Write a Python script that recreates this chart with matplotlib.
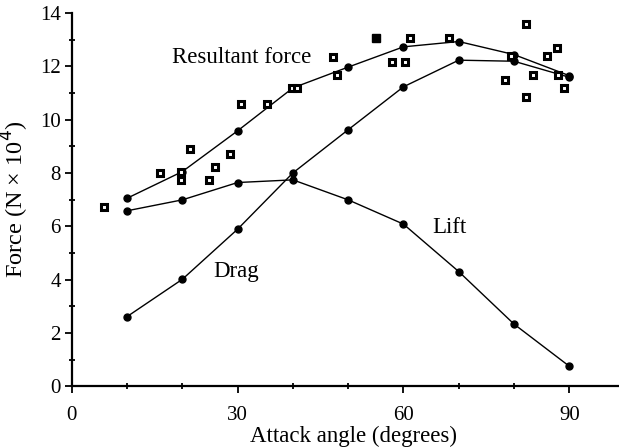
import matplotlib
matplotlib.use('Agg')
import matplotlib.pyplot as plt
from matplotlib.ticker import MultipleLocator

plt.rcParams['font.family'] = ['Liberation Serif', 'DejaVu Serif']

angles = [10, 20, 30, 40, 50, 60, 70, 80, 90]
resultant = [7.05, 8.05, 9.58, 11.19, 11.97, 12.73, 12.93, 12.44, 11.65]
lift = [6.58, 6.99, 7.64, 7.74, 6.99, 6.08, 4.30, 2.33, 0.75]
drag = [2.61, 4.01, 5.89, 8.0, 9.62, 11.23, 12.23, 12.19, 11.59]

meas_x = [5.9, 15.9, 19.8, 19.8, 21.3, 24.9, 25.9, 28.7, 30.7, 35.3, 39.8, 40.7,
          47.3, 48.0, 58.0, 60.2, 61.2, 68.2, 78.3, 79.5, 82.2, 82.2, 83.5, 85.9,
          87.8, 88.0, 89.0]
meas_y = [6.74, 8.0, 8.02, 7.73, 8.91, 7.74, 8.22, 8.7, 10.6, 10.6, 11.19, 11.19,
          12.36, 11.67, 12.17, 12.17, 13.07, 13.07, 11.48, 12.4, 13.57, 10.84, 11.68,
          12.38, 12.67, 11.68, 11.19]
filled_x = [55.0]
filled_y = [13.07]

fig = plt.figure(figsize=(6.19, 4.48), dpi=100)
ax = fig.add_axes([0.116, 0.138, 0.884, 0.833])

for ys in (resultant, lift, drag):
    ax.plot(angles, ys, color='black', lw=1.0, marker='o', ms=5, mfc='black', mec='black')

ax.plot(meas_x, meas_y, ls='none', marker='s', ms=4.2, mfc='white', mec='black', mew=2.2)
ax.plot(filled_x, filled_y, ls='none', marker='s', ms=5.5, mfc='black', mec='black')

ax.text(30.7, 12.33, 'Resultant force', fontsize=16.5, ha='center', va='center')
ax.text(68.4, 5.94, 'Lift', fontsize=16.5, ha='center', va='center')
ax.text(29.8, 4.29, 'Drag', fontsize=16.5, ha='center', va='center')

ax.set_xlim(0, 99)
ax.set_ylim(0, 14)
ax.set_xticks([0, 30, 60, 90])
ax.set_yticks(range(0, 15, 2))
ax.xaxis.set_minor_locator(MultipleLocator(10))
ax.yaxis.set_minor_locator(MultipleLocator(1))
ax.tick_params(which='both', labelsize=15, width=1.3)
ax.tick_params(which='major', direction='out', length=5)
ax.tick_params(which='minor', direction='inout', length=4)
ax.tick_params(axis='x', pad=9)
ax.tick_params(axis='y', pad=3)
ax.spines['top'].set_visible(False)
ax.spines['right'].set_visible(False)
ax.spines['left'].set_linewidth(1.6)
ax.spines['bottom'].set_linewidth(1.6)

ax.set_xlabel('Attack angle (degrees)', fontsize=16.5)
ax.xaxis.set_label_coords(0.514, -0.105)
ax.set_ylabel('Force (N \u00d7 10$^4$)', fontsize=17.5, labelpad=6)

fig.savefig('out.png', dpi=100)
